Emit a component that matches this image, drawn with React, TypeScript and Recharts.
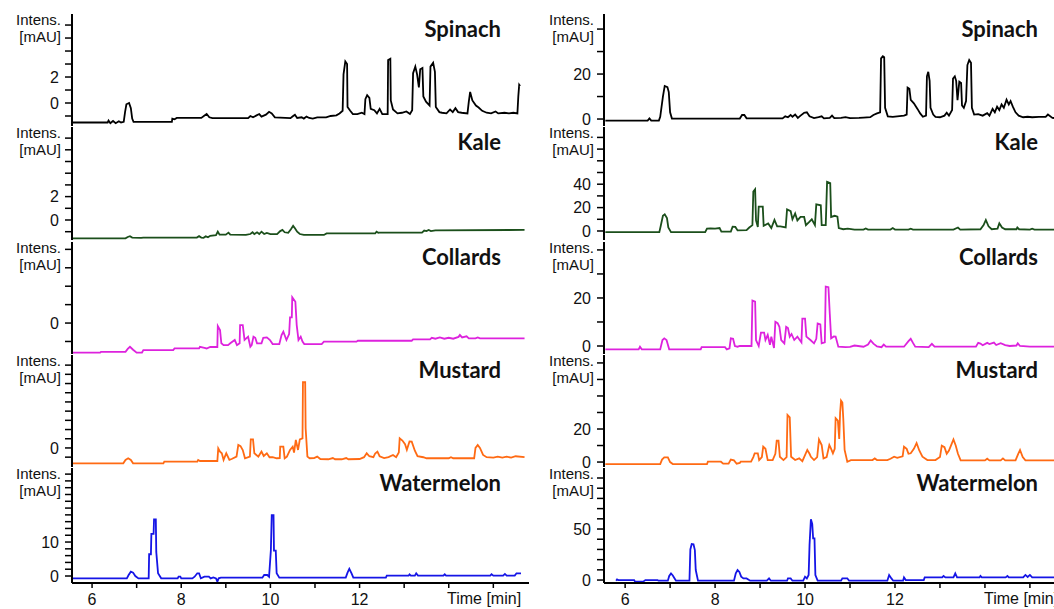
import React from 'react';
import { LineChart, Line, XAxis, YAxis } from 'recharts';

type Pt = [number, number];

// ---- Left column (first detector trace) ----
const spinachL: Pt[] = [[5.55,-1.5],[6.35,-1.5],[6.37,-1.35],[6.41,-1.55],[6.47,-1.38],[6.53,-1.55],[6.6,-1.4],[6.65,-1.5],[6.71,-1.45],[6.74,-0.7],[6.77,-0.1],[6.83,0],[6.87,-0.4],[6.9,-1.2],[6.93,-1.45],[7.79,-1.45],[7.8,-1.2],[7.85,-1.25],[7.9,-1.15],[8.45,-1.15],[8.53,-0.95],[8.57,-0.85],[8.63,-1.1],[8.7,-1.17],[9.5,-1.17],[9.55,-1.0],[9.61,-1.1],[9.69,-0.95],[9.75,-0.85],[9.8,-1.05],[9.9,-0.9],[9.97,-0.68],[10.03,-0.8],[10.1,-1.1],[10.45,-1.17],[10.51,-1.0],[10.55,-0.9],[10.6,-1.15],[10.7,-1.1],[10.75,-1.2],[10.81,-1.05],[10.87,-1.15],[10.95,-1.2],[11.05,-1.1],[11.25,-1.1],[11.35,-1.0],[11.48,-0.95],[11.55,-0.8],[11.62,-0.6],[11.64,2.2],[11.68,3.2],[11.72,3.0],[11.73,-0.3],[11.79,-0.6],[11.85,-0.85],[11.95,-0.85],[12.05,-0.75],[12.11,-0.85],[12.13,0.3],[12.17,0.6],[12.22,0.4],[12.25,-0.45],[12.33,-0.55],[12.39,-0.8],[12.45,-0.45],[12.51,-0.85],[12.63,-0.85],[12.64,3.3],[12.69,3.4],[12.7,0.2],[12.75,-0.5],[12.85,-0.8],[12.95,-0.75],[13.05,-0.65],[13.13,-0.85],[13.18,-0.55],[13.2,2.3],[13.25,2.8],[13.29,2.2],[13.33,1.2],[13.36,2.6],[13.41,2.7],[13.43,0.5],[13.49,0.1],[13.57,-0.2],[13.59,2.8],[13.65,3.1],[13.69,2.4],[13.71,-0.3],[13.79,-0.7],[13.85,-0.75],[13.95,-0.8],[14.03,-0.5],[14.09,-0.7],[14.15,-0.4],[14.21,-0.7],[14.29,-0.75],[14.42,-0.8],[14.45,0.1],[14.48,0.85],[14.53,0.2],[14.61,-0.2],[14.67,-0.35],[14.75,-0.6],[14.85,-0.75],[14.95,-0.8],[15.05,-0.65],[15.11,-0.8],[15.25,-0.75],[15.35,-0.8],[15.45,-0.75],[15.54,-0.8],[15.56,0.5],[15.58,1.4],[15.6,1.3]];

const kaleL: Pt[] = [[5.55,-1.57],[6.75,-1.57],[6.8,-1.45],[6.85,-1.38],[6.9,-1.5],[7.1,-1.52],[7.15,-1.5],[8.35,-1.5],[8.4,-1.38],[8.45,-1.5],[8.5,-1.52],[8.55,-1.4],[8.6,-1.48],[8.65,-1.35],[8.78,-1.3],[8.82,-1.0],[8.86,-1.25],[9.0,-1.25],[9.06,-1.08],[9.1,-1.25],[9.45,-1.28],[9.55,-1.2],[9.6,-1.05],[9.64,-1.2],[9.7,-1.05],[9.75,-1.2],[9.8,-1.0],[9.86,-1.2],[9.92,-1.1],[10.0,-1.2],[10.15,-1.2],[10.22,-0.95],[10.27,-0.85],[10.32,-1.05],[10.4,-1.1],[10.46,-0.8],[10.51,-0.5],[10.55,-0.7],[10.6,-1.0],[10.66,-1.2],[10.75,-1.28],[11.2,-1.28],[11.26,-1.15],[12.35,-1.15],[12.38,-1.0],[12.42,-1.1],[12.44,-1.08],[13.4,-1.08],[13.45,-0.9],[13.5,-0.95],[13.55,-0.85],[13.6,-0.95],[13.7,-0.88],[15.7,-0.85]];

const collardsL: Pt[] = [[5.55,-1.61],[6.18,-1.61],[6.2,-1.56],[6.75,-1.56],[6.8,-1.4],[6.85,-1.29],[6.92,-1.45],[7.0,-1.61],[7.12,-1.6],[7.15,-1.47],[7.82,-1.47],[7.85,-1.38],[8.4,-1.38],[8.42,-1.29],[8.52,-1.35],[8.57,-1.38],[8.65,-1.3],[8.72,-1.29],[8.81,-1.3],[8.82,-0.16],[8.87,-0.38],[8.9,-1.1],[8.95,-1.2],[9.05,-1.2],[9.1,-1.1],[9.2,-0.92],[9.25,-1.2],[9.31,-1.1],[9.32,-0.11],[9.38,-0.11],[9.42,-0.92],[9.5,-0.74],[9.55,-1.29],[9.58,-1.2],[9.62,-0.74],[9.66,-0.8],[9.7,-1.1],[9.8,-1.1],[9.84,-0.8],[9.92,-0.78],[9.99,-0.92],[10.05,-1.14],[10.2,-1.14],[10.25,-0.65],[10.29,-0.47],[10.36,-0.92],[10.42,-0.6],[10.44,0.31],[10.48,0.31],[10.49,1.4],[10.56,1.16],[10.59,-0.11],[10.63,-0.92],[10.68,-0.74],[10.72,-1.0],[10.76,-1.14],[11.15,-1.14],[11.2,-1.01],[11.93,-1.01],[11.96,-0.96],[13.17,-0.96],[13.2,-0.89],[13.58,-0.89],[13.62,-0.8],[13.7,-0.85],[13.8,-0.78],[13.9,-0.85],[14.0,-0.8],[14.1,-0.85],[14.22,-0.75],[14.25,-0.65],[14.3,-0.78],[14.4,-0.72],[14.45,-0.83],[14.6,-0.83],[14.65,-0.78],[14.7,-0.83],[15.7,-0.83]];

const mustardL: Pt[] = [[5.55,-1.67],[6.7,-1.67],[6.75,-1.3],[6.81,-1.12],[6.87,-1.3],[6.92,-1.67],[7.6,-1.67],[7.62,-1.49],[8.36,-1.49],[8.38,-1.3],[8.42,-1.42],[8.81,-1.42],[8.83,-0.04],[8.87,-0.4],[8.91,-0.58],[8.95,-1.3],[9.01,-0.58],[9.08,-1.3],[9.13,-1.2],[9.24,-0.94],[9.28,0.33],[9.33,0.2],[9.38,-0.22],[9.43,-1.12],[9.54,-0.94],[9.56,0.94],[9.61,0.94],[9.64,-0.58],[9.73,-0.94],[9.8,-0.4],[9.85,-0.87],[9.92,-0.58],[9.98,-1.01],[10.05,-1.0],[10.14,-1.12],[10.21,-1.1],[10.22,0.14],[10.29,0.14],[10.32,-1.12],[10.37,-0.94],[10.44,-0.22],[10.5,0.14],[10.53,-0.5],[10.57,0.87],[10.62,-0.22],[10.66,0.94],[10.72,1.05],[10.73,7.14],[10.78,7.14],[10.79,2.14],[10.83,-0.94],[10.88,-1.12],[10.98,-1.1],[11.05,-0.94],[11.12,-1.2],[11.3,-1.23],[11.4,-1.1],[11.45,-1.23],[11.6,-1.23],[11.7,-1.1],[11.75,-1.23],[12.0,-1.2],[12.1,-1.0],[12.16,-0.58],[12.22,-0.9],[12.31,-1.01],[12.35,-0.6],[12.4,-0.4],[12.45,-0.9],[12.55,-1.1],[12.65,-1.0],[12.75,-0.76],[12.82,-1.0],[12.88,-0.5],[12.9,1.05],[12.96,0.8],[13.02,0.4],[13.06,-0.2],[13.12,0.7],[13.17,0.69],[13.24,-0.3],[13.3,-0.9],[13.43,-1.01],[13.5,-1.12],[14.0,-1.12],[14.05,-1.0],[14.1,-1.12],[14.57,-1.12],[14.6,0.0],[14.65,0.33],[14.7,0.0],[14.77,-0.76],[14.85,-1.0],[15.0,-1.05],[15.1,-0.95],[15.2,-1.05],[15.3,-0.95],[15.4,-1.05],[15.5,-0.9],[15.7,-1.0]];

const watermelonL: Pt[] = [[5.55,-0.69],[6.78,-0.69],[6.82,0.3],[6.87,1.27],[6.92,1.0],[6.97,0],[7.04,-0.69],[7.27,-0.69],[7.28,6.4],[7.32,6.4],[7.33,12.4],[7.38,12.4],[7.39,16.7],[7.43,16.7],[7.44,7.1],[7.48,0.8],[7.55,-0.69],[7.92,-0.69],[7.94,-0.2],[7.98,-0.2],[8.0,-0.69],[8.25,-0.69],[8.3,-0.2],[8.36,0.8],[8.4,0.8],[8.44,-0.69],[8.52,-0.2],[8.62,-0.2],[8.66,-0.69],[8.72,-0.4],[8.78,-0.69],[8.81,-1.67],[8.84,-0.69],[8.89,-0.49],[9.82,-0.49],[9.86,0.29],[9.93,0.29],[9.97,-0.2],[10.01,7.5],[10.03,17.9],[10.07,17.9],[10.08,7.5],[10.12,7.5],[10.14,0.8],[10.2,-0.49],[11.69,-0.49],[11.73,1.0],[11.77,2.1],[11.82,0.8],[11.86,-0.49],[12.59,-0.49],[12.61,0.1],[13.1,0.1],[13.12,0.5],[13.15,0.1],[13.24,0.1],[13.27,0.8],[13.31,0.1],[13.88,0.1],[13.91,0.5],[13.94,0.1],[14.93,0.1],[14.96,0.5],[15.0,0.1],[15.22,0.1],[15.26,0.6],[15.3,0.1],[15.48,0.1],[15.52,0.8],[15.62,0.8]];

// ---- Right column (second detector trace) ----
const spinachR: Pt[] = [[5.56,-0.7],[6.5,-0.7],[6.54,0.3],[6.58,-0.7],[6.75,-0.7],[6.78,1.0],[6.84,10],[6.88,14.7],[6.94,14.2],[6.97,12],[7.0,3],[7.04,0.2],[8.55,0.2],[8.6,1.8],[8.65,1.8],[8.7,0.3],[9.5,0.3],[9.56,1.2],[9.62,0.8],[9.68,1.8],[9.72,1.0],[9.78,2.0],[9.84,0.5],[9.9,1.5],[9.98,2.8],[10.04,3.0],[10.1,1.2],[10.2,0.4],[10.3,0.8],[10.37,1.2],[10.42,0.3],[10.55,0.5],[10.6,1.5],[10.65,0.4],[10.8,0.5],[10.9,0.8],[11.0,0.4],[11.2,0.5],[11.3,0.6],[11.45,0.8],[11.52,1.8],[11.6,2.5],[11.67,3.0],[11.69,27],[11.73,27.9],[11.76,27.5],[11.78,5],[11.84,1.2],[11.95,1.0],[12.1,1.3],[12.2,1.5],[12.26,2.0],[12.28,14],[12.32,13.5],[12.35,8.5],[12.42,7],[12.5,4.5],[12.56,2.5],[12.62,1.0],[12.69,1.5],[12.71,19],[12.74,21],[12.77,17],[12.79,5],[12.85,2],[12.9,1],[13.0,0.8],[13.1,1.5],[13.15,2.8],[13.2,1.5],[13.27,4],[13.29,18],[13.33,19],[13.36,17],[13.39,8.4],[13.43,16.6],[13.47,16],[13.49,6],[13.53,5],[13.58,8],[13.61,24],[13.65,26.2],[13.69,25],[13.71,5],[13.76,2],[13.85,2.2],[13.95,1.5],[14.05,2.6],[14.1,1.5],[14.17,4.5],[14.22,3],[14.27,5.5],[14.32,4],[14.37,6.5],[14.42,5],[14.48,8.6],[14.53,6.5],[14.57,8],[14.62,5.5],[14.68,3],[14.75,1.5],[14.85,0.8],[14.95,1.0],[15.05,0.8],[15.2,1.0],[15.35,1.0],[15.4,2.0],[15.5,0.5],[15.6,0.4],[15.78,0.4]];

const kaleR: Pt[] = [[5.56,-1],[6.76,-1],[6.79,4],[6.84,13],[6.88,14.2],[6.93,11],[6.96,3],[7.02,-1],[7.78,-1],[7.82,2],[7.9,2.3],[8.0,2],[8.1,2.5],[8.14,-0.5],[8.35,-0.5],[8.39,3.7],[8.45,3.5],[8.5,0.5],[8.7,0.8],[8.76,3],[8.83,5],[8.85,33.6],[8.89,35.6],[8.91,9],[8.95,3.5],[8.97,20.8],[9.06,20.8],[9.08,4.5],[9.18,6.5],[9.25,2.5],[9.32,9.5],[9.38,4],[9.45,4],[9.57,3],[9.6,18.5],[9.68,17],[9.72,10],[9.78,15],[9.83,9],[9.9,12],[9.98,12],[10.02,5],[10.1,8],[10.15,10],[10.22,5],[10.25,22.8],[10.35,22],[10.37,5],[10.46,5],[10.49,42],[10.56,41],[10.58,12],[10.66,13],[10.72,12.3],[10.75,2.5],[10.85,1.5],[10.95,2.0],[11.1,1.2],[11.3,1.2],[11.35,2.2],[11.4,1.2],[11.9,1.2],[11.95,2.5],[12.0,1.2],[12.3,1.2],[12.35,2],[12.4,1.2],[13.3,1.2],[13.4,3],[13.45,1.2],[13.9,1.5],[13.97,5],[14.02,9.4],[14.08,4],[14.15,1.5],[14.28,2],[14.32,6.6],[14.38,3],[14.45,1.5],[14.7,1.5],[14.72,3],[14.76,1.5],[15.0,1.2],[15.05,2],[15.1,1.2],[15.78,1.2]];

const collardsR: Pt[] = [[5.56,-1.4],[6.3,-1.4],[6.33,-0.3],[6.37,-1.4],[6.78,-1.4],[6.83,2.5],[6.87,3.2],[6.92,2.5],[6.98,-1.4],[7.68,-1.4],[7.7,-0.5],[8.22,-0.5],[8.26,-1.4],[8.32,-1.0],[8.35,3.2],[8.4,3.0],[8.44,0],[8.5,-0.3],[8.55,0],[8.81,0],[8.83,18.9],[8.89,18.5],[8.91,2.5],[8.97,0],[9.02,5.6],[9.09,5.6],[9.12,2.5],[9.17,4.6],[9.22,0.5],[9.25,3.9],[9.31,-0.8],[9.34,10.1],[9.39,9.5],[9.43,8],[9.47,2.5],[9.54,1.1],[9.58,8],[9.62,7.5],[9.66,3.9],[9.7,5.0],[9.76,2.5],[9.83,3.9],[9.92,1.5],[9.94,11.4],[10.0,11.4],[10.03,3.9],[10.12,2.5],[10.2,1.1],[10.25,3],[10.28,9.4],[10.34,9.0],[10.37,1.1],[10.44,1.5],[10.46,24.7],[10.52,24.5],[10.55,13.4],[10.58,3.2],[10.64,4],[10.68,3.9],[10.74,-0.3],[10.9,-0.5],[11.0,-0.4],[11.1,0.2],[11.3,-0.3],[11.4,0.6],[11.46,2.3],[11.52,1.0],[11.6,-0.2],[11.7,-0.5],[11.75,0.6],[11.8,-0.3],[12.2,-0.3],[12.3,2.0],[12.35,3.0],[12.4,1.3],[12.45,-0.3],[12.75,-0.5],[12.82,0.9],[12.88,-0.3],[13.8,-0.3],[13.85,1.3],[13.9,1.0],[13.95,0.3],[14.05,1.3],[14.1,0.8],[14.2,1.4],[14.25,0.4],[14.35,1.2],[14.45,0.4],[14.55,0],[14.7,0.2],[14.73,1.1],[14.78,0],[15.0,-0.3],[15.78,-0.3]];

const mustardR: Pt[] = [[5.56,-1.2],[6.78,-1.2],[6.82,1.5],[6.87,2.8],[6.95,2.8],[7.0,0],[7.06,-1.2],[7.82,-1.2],[7.84,0.2],[8.13,0.2],[8.18,-1],[8.3,-1],[8.35,1.5],[8.42,1.0],[8.48,-1],[8.55,-0.5],[8.57,0.2],[8.8,0.2],[8.85,3],[8.88,5.3],[8.95,5.3],[8.98,1.2],[9.04,3],[9.07,9.3],[9.12,8],[9.17,1.2],[9.28,1.2],[9.34,5],[9.37,12.9],[9.41,12.9],[9.44,3.2],[9.52,1.2],[9.59,3],[9.61,28.5],[9.66,27],[9.69,3.2],[9.78,1.2],[9.87,2.2],[9.94,0.5],[9.98,3],[10.05,7.3],[10.1,5],[10.13,3.2],[10.2,1.2],[10.27,3],[10.31,13.7],[10.37,10.3],[10.41,2.2],[10.48,3],[10.54,10.3],[10.58,8],[10.62,5.3],[10.66,8],[10.68,26.5],[10.73,25],[10.76,14],[10.78,30],[10.8,37.2],[10.83,36],[10.85,26.5],[10.88,7.3],[10.94,0.2],[11.02,1.2],[11.5,1.2],[11.55,2.2],[11.6,1.2],[11.83,1.2],[11.9,2],[11.98,3.2],[12.05,2.5],[12.17,3.5],[12.2,9.3],[12.26,8],[12.3,5],[12.35,5.3],[12.42,8],[12.48,11.5],[12.54,7],[12.61,3.2],[12.72,1.2],[12.9,1.2],[13.0,3],[13.04,9.9],[13.1,9],[13.15,5],[13.2,7],[13.26,11],[13.3,13.7],[13.35,10],[13.4,5],[13.46,1.0],[14.0,1.0],[14.05,2],[14.1,1.0],[14.35,1.0],[14.4,2.2],[14.45,1.0],[14.68,1.0],[14.74,5],[14.78,7.3],[14.84,3],[14.9,1.0],[15.78,1.0]];

const watermelonR: Pt[] = [[5.8,-0.65],[5.82,0.65],[5.85,0],[6.2,0],[6.22,-1.6],[6.4,-1.6],[6.45,0],[6.72,0],[6.74,-0.65],[6.95,-0.65],[6.98,4],[7.02,6.5],[7.06,4.5],[7.1,1.6],[7.13,-0.65],[7.43,-0.65],[7.45,30],[7.48,35.3],[7.52,35],[7.55,29.4],[7.57,9.8],[7.62,-0.65],[8.42,-0.65],[8.46,6.5],[8.5,9.8],[8.54,8],[8.58,3.3],[8.63,1.6],[8.7,1.6],[8.78,-0.65],[9.15,-0.65],[9.2,1.6],[9.24,-0.65],[9.6,-0.65],[9.62,1.6],[9.68,1.6],[9.72,-0.65],[9.96,-0.65],[10.0,3.3],[10.04,1.6],[10.08,4.9],[10.1,34.3],[10.13,59.5],[10.16,55],[10.18,40.8],[10.21,40.8],[10.23,4.9],[10.28,-0.65],[10.8,-0.65],[10.83,1.6],[10.94,1.6],[10.98,-0.65],[11.83,-0.65],[11.87,4.9],[11.92,1.6],[11.96,-0.65],[12.18,-0.65],[12.2,2.6],[12.24,0],[12.64,0],[12.66,2.6],[13.05,2.6],[13.08,4],[13.12,2.6],[13.3,2.6],[13.34,6.5],[13.38,2.6],[13.88,2.6],[13.9,4],[13.93,2.6],[14.46,2.6],[14.5,4],[14.53,2.6],[14.85,2.6],[14.9,5],[14.95,3],[15.0,5],[15.05,2.6],[15.78,2.6]];

// ---- Axis settings ----
const titles = ['Spinach', 'Kale', 'Collards', 'Mustard', 'Watermelon'];
const colors = ['#000000', '#1b4f1b', '#dd22dd', '#ff6a13', '#1515e6'];
const xTicks = [6, 7, 8, 9, 10, 11, 12, 13, 14, 15];
const xTickLabels = [6, 8, 10, 12];

const range = (a: number, b: number, s: number) => {
  const out: number[] = [];
  for (let v = a; v <= b + 1e-9; v += s) out.push(v);
  return out;
};

interface PanelCfg {
  data: Pt[];
  domain: [number, number];
  ticks: number[];
  labels: number[];
}

const leftPanels: PanelCfg[] = [
  { data: spinachL, domain: [-1.77, 6.85], ticks: range(-1, 6, 1), labels: [0, 2] },
  { data: kaleL, domain: [-1.71, 7.95], ticks: range(-1, 7, 1), labels: [0, 2] },
  { data: collardsL, domain: [-1.68, 4.4], ticks: range(-1, 4, 1), labels: [0] },
  { data: mustardL, domain: [-2.07, 10.1], ticks: range(-1, 9, 1), labels: [0] },
  { data: watermelonL, domain: [-2.06, 31.8], ticks: range(0, 30, 2), labels: [0, 10] },
];

const rightPanels: PanelCfg[] = [
  { data: spinachR, domain: [-3.1, 46.7], ticks: range(0, 40, 10), labels: [0, 20] },
  { data: kaleR, domain: [-7.7, 88.9], ticks: range(0, 80, 10), labels: [0, 20, 40] },
  { data: collardsR, domain: [-3.33, 43.3], ticks: range(0, 40, 10), labels: [0, 20] },
  { data: mustardR, domain: [-3.0, 64.8], ticks: range(0, 60, 10), labels: [0, 20] },
  { data: watermelonR, domain: [-2.9, 109.8], ticks: range(0, 100, 10), labels: [0, 50] },
];

const rows: [number, number][] = [[14, 126], [127, 240], [242, 354], [355, 467], [468, 583]];

const cols = [
  { chartLeft: 0, plotLeft: 72, plotW: 457, xDomain: [5.55, 15.8] as [number, number], labelRight: 61, titleRight: 501, timeLeft: 447 },
  { chartLeft: 532, plotLeft: 604, plotW: 461, xDomain: [5.53, 15.78] as [number, number], labelRight: 594, titleRight: 1038, timeLeft: 984 },
];

const FONT = "'Liberation Sans', Arial, sans-serif";

function Panel({ cfg, row, col }: { cfg: PanelCfg; row: number; col: number }) {
  const [top, bot] = rows[row];
  const H = bot - top;
  const c = cols[col];
  const bottom = row === 4;
  const mt = 2;
  const mb = bottom ? 0 : 3;
  const xH = bottom ? 30 : 0;
  const ml = c.plotLeft - c.chartLeft - 60;
  const width = ml + 60 + c.plotW + 3;
  const height = mt + H + xH + mb;
  const data = cfg.data.map(([t, v]) => ({ t, v }));
  return (
    <div style={{ position: 'absolute', left: c.chartLeft, top: top - mt }}>
      <LineChart width={width} height={height} data={data} margin={{ top: mt, right: 3, bottom: mb, left: ml }}>
        <XAxis
          xAxisId="b"
          type="number"
          dataKey="t"
          domain={c.xDomain}
          allowDataOverflow
          ticks={xTicks}
          interval={0}
          height={xH}
          tick={bottom ? { fill: '#111', fontSize: 16 } : false}
          tickLine={bottom ? { stroke: '#000', strokeWidth: 1.5 } : false}
          tickSize={5}
          tickMargin={6}
          tickFormatter={(v: number) => (xTickLabels.includes(v) ? String(v) : '')}
          axisLine={{ stroke: '#000', strokeWidth: 2 }}
        />
        <XAxis
          xAxisId="t"
          orientation="top"
          type="number"
          dataKey="t"
          domain={c.xDomain}
          allowDataOverflow
          height={0}
          tick={false}
          tickLine={false}
          axisLine={{ stroke: '#000', strokeWidth: row === 0 ? 1.3 : 1.5 }}
        />
        <YAxis
          yAxisId="l"
          type="number"
          domain={cfg.domain}
          allowDataOverflow
          ticks={cfg.ticks}
          interval={0}
          width={60}
          tickSize={7}
          tickMargin={6}
          tick={{ fill: '#111', fontSize: 16 }}
          tickLine={{ stroke: '#000', strokeWidth: 1.5 }}
          tickFormatter={(v: number) => (cfg.labels.includes(v) ? String(v) : '')}
          axisLine={{ stroke: '#000', strokeWidth: 2 }}
        />
        <YAxis
          yAxisId="r"
          orientation="right"
          type="number"
          domain={cfg.domain}
          allowDataOverflow
          width={0}
          tick={false}
          tickLine={false}
          axisLine={{ stroke: '#000', strokeWidth: 1.5 }}
        />
        <Line
          xAxisId="b"
          yAxisId="l"
          type="linear"
          dataKey="v"
          stroke={colors[row]}
          strokeWidth={1.8}
          dot={false}
          isAnimationActive={false}
        />
      </LineChart>
    </div>
  );
}

function Texts({ row, col }: { row: number; col: number }) {
  const [top] = rows[row];
  const c = cols[col];
  const common: React.CSSProperties = {
    position: 'absolute',
    fontFamily: FONT,
    fontSize: 15,
    lineHeight: '12px',
    color: '#111',
    textAlign: 'right',
    whiteSpace: 'nowrap',
  };
  return (
    <>
      <div style={{ ...common, left: c.labelRight - 70, width: 70, top: top + 5.5 - 6 }}>Intens.</div>
      <div style={{ ...common, left: c.labelRight - 70, width: 70, top: top + 22.5 - 6 }}>[mAU]</div>
      <div
        style={{
          position: 'absolute',
          left: c.titleRight - 200,
          width: 200,
          top: top + 15 - 13,
          textAlign: 'right',
          fontFamily: "Lato, 'Open Sans', sans-serif",
          fontWeight: 700,
          fontSize: 22,
          lineHeight: '26px',
          color: '#111',
        }}
      >
        {titles[row]}
      </div>
    </>
  );
}

export default function App() {
  return (
    <div
      style={{
        position: 'fixed',
        left: 0,
        top: 0,
        width: 1054,
        height: 609,
        overflow: 'hidden',
        background: '#fff',
        fontFamily: FONT,
      }}
    >
      {[leftPanels, rightPanels].map((panels, col) =>
        panels.map((cfg, row) => <Panel key={`${col}-${row}`} cfg={cfg} row={row} col={col} />)
      )}
      {[0, 1].map((col) =>
        [0, 1, 2, 3, 4].map((row) => <Texts key={`t${col}-${row}`} row={row} col={col} />)
      )}
      {cols.map((c, i) => (
        <div
          key={`time${i}`}
          style={{
            position: 'absolute',
            left: c.timeLeft,
            top: 592,
            fontFamily: FONT,
            fontSize: 16,
            lineHeight: '14px',
            color: '#111',
            whiteSpace: 'nowrap',
          }}
        >
          Time [min]
        </div>
      ))}
    </div>
  );
}
